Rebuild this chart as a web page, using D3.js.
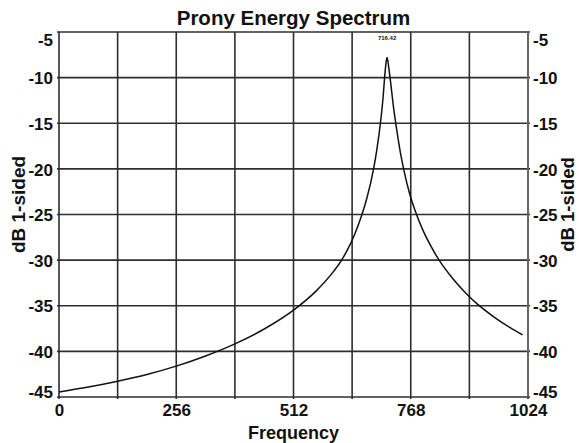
<!DOCTYPE html>
<html>
<head>
<meta charset="utf-8">
<script src="https://cdn.jsdelivr.net/npm/d3@7"></script>
<style>
  html, body { margin: 0; padding: 0; background: #fff; }
  svg { display: block; }
  text { font-family: "Liberation Sans", Arial, sans-serif; font-weight: bold; fill: #111; }
</style>
</head>
<body>
<svg id="chart" width="579" height="443"></svg>
<script>
// Prony energy spectrum (one-sided, dB)
const freqs = [0, 64, 128, 192, 256, 320, 384, 448, 512, 560, 600, 617, 630, 645, 660, 672, 686, 694, 702, 707, 712, 714.5, 716.42,
               720, 724, 730, 737, 745, 753, 765, 777, 795, 812, 830, 860, 890, 913, 950, 985, 1012];
const dbValues = [-44.44, -43.91, -43.27, -42.53, -41.62, -40.51, -39.18, -37.55, -35.48, -33.45, -31.21, -30.0, -28.85, -27.24, -25.23, -23.25, -20.22, -17.89, -14.91, -12.51, -9.37, -8.2, -7.8,
                  -8.9, -10.5, -13.1, -15.6, -18.1, -20.13, -22.61, -24.51, -26.77, -28.47, -30.01, -32.05, -33.71, -34.8, -36.24, -37.4, -38.18];
const xTicks = [0, 128, 256, 384, 512, 640, 768, 896, 1024];
const xTickLabels = ["0", "", "256", "", "512", "", "768", "", "1024"];
const yTicks = [-5, -10, -15, -20, -25, -30, -35, -40, -45];
const peakFreq = 716.42;
const peakLabel = "716.42";

const svg = d3.select("#chart");
const plotLeft = 59, plotRight = 528, plotTop = 32, plotBottom = 397;

const x = d3.scaleLinear().domain([0, 1024]).range([plotLeft, plotRight]);
const y = d3.scaleLinear().domain([-45, -5]).range([plotBottom, plotTop]);

// grid
const grid = svg.append("g").attr("stroke", "#2e2e2e").attr("stroke-width", 1.6);
grid.selectAll("line.v").data(xTicks).join("line")
  .attr("x1", d => x(d)).attr("x2", d => x(d))
  .attr("y1", plotTop).attr("y2", plotBottom + 2);
grid.selectAll("line.h").data(yTicks).join("line")
  .attr("x1", plotLeft - 2).attr("x2", plotRight + 2)
  .attr("y1", d => y(d)).attr("y2", d => y(d));

// right frame side
svg.append("line").attr("x1", plotRight).attr("x2", plotRight)
  .attr("y1", plotTop).attr("y2", plotBottom)
  .attr("stroke", "#666").attr("stroke-width", 2);

// tick labels via d3 axes (domain and tick lines hidden, text styled)
const fmt = d => String(d);
const leftAxis = svg.append("g").attr("transform", `translate(${plotLeft - 6},0)`)
  .call(d3.axisLeft(y).tickValues(yTicks).tickSize(0).tickPadding(0).tickFormat(fmt));
const rightAxis = svg.append("g").attr("transform", `translate(${plotRight + 5},0)`)
  .call(d3.axisRight(y).tickValues(yTicks).tickSize(0).tickPadding(0).tickFormat(fmt));
[leftAxis, rightAxis].forEach(g => {
  g.select(".domain").remove();
  g.selectAll("text")
    .attr("font-size", 17).attr("font-family", null).attr("fill", "#111")
    .attr("dy", d => d === -5 ? "0.78em" : d === -45 ? "0em" : "0.36em");
});

const bottomAxis = svg.append("g").attr("transform", `translate(0,${plotBottom})`)
  .call(d3.axisBottom(x).tickValues(xTicks).tickSize(0).tickPadding(0)
    .tickFormat((d, i) => xTickLabels[i]));
bottomAxis.select(".domain").remove();
bottomAxis.selectAll("text")
  .attr("font-size", 17).attr("font-family", null).attr("fill", "#111")
  .attr("y", 19).attr("dy", 0);

// spectrum curve
const line = d3.line()
  .x((d, i) => x(freqs[i]))
  .y(d => y(d))
  .curve(d3.curveMonotoneX);
svg.append("path").datum(dbValues)
  .attr("fill", "none").attr("stroke", "#111").attr("stroke-width", 1.5)
  .attr("d", line);

// peak annotation
svg.append("text").attr("x", x(peakFreq)).attr("y", 40)
  .attr("text-anchor", "middle").attr("font-size", 6).attr("font-weight", "normal")
  .text(peakLabel);

// title
svg.append("text").attr("x", (plotLeft + plotRight) / 2).attr("y", 25)
  .attr("text-anchor", "middle").attr("font-size", 20.5)
  .text("Prony Energy Spectrum");

// axis titles
svg.append("text").attr("x", (plotLeft + plotRight) / 2).attr("y", 439)
  .attr("text-anchor", "middle").attr("font-size", 18)
  .text("Frequency");
const midY = (plotTop + plotBottom) / 2 - 10;
svg.append("text")
  .attr("transform", `translate(25,${midY}) rotate(-90)`)
  .attr("text-anchor", "middle").attr("font-size", 19)
  .text("dB 1-sided");
svg.append("text")
  .attr("transform", `translate(574,${midY}) rotate(-90)`)
  .attr("text-anchor", "middle").attr("font-size", 18.5)
  .text("dB 1-sided");
</script>
</body>
</html>
